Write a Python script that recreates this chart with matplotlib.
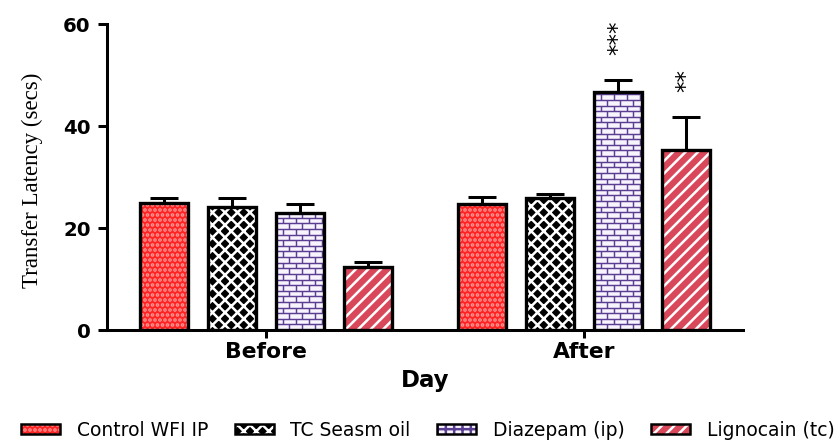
import numpy as np
import matplotlib
matplotlib.use("Agg")
import matplotlib.pyplot as plt
from matplotlib.patches import Patch
from matplotlib.collections import LineCollection

# ---- data -------------------------------------------------------------
days = ["Before", "After"]
series = ["Control WFI IP", "TC Seasm oil", "Diazepam (ip)", "Lignocain (tc)"]

control_mean = [24.9, 24.7]
control_sem = [1.0, 1.4]
tc_mean = [24.1, 25.9]
tc_sem = [1.8, 0.8]
diazepam_mean = [22.9, 46.7]
diazepam_sem = [1.8, 2.3]
lignocain_mean = [12.4, 35.3]
lignocain_sem = [0.9, 6.5]

diazepam_sig = ["", "***"]
lignocain_sig = ["", "**"]

y_ticks = [0, 20, 40, 60]

# ---- styling ----------------------------------------------------------
DPI = 150
plt.rcParams["hatch.linewidth"] = 1.2
plt.rcParams["font.family"] = ["DejaVu Sans"]

styles = [
    dict(face="#FF2424", hatch=".....", hcolor="#FF9C9C"),
    dict(face="#000000", hatch="xxxx", hcolor="#FFFFFF"),
    dict(face="#F8F4FD", hatch=None, hcolor="#5A3E92"),   # brick pattern
    dict(face="#D9485A", hatch="////", hcolor="#FFFFFF"),
]
means = [control_mean, tc_mean, diazepam_mean, lignocain_mean]
sems = [control_sem, tc_sem, diazepam_sem, lignocain_sem]
sigs = [None, None, diazepam_sig, lignocain_sig]

fig = plt.figure(figsize=(837 / DPI, 442 / DPI), dpi=DPI)
ax = fig.add_axes([107 / 837, 1 - 330 / 442, 636 / 837, 306 / 442])

x = np.arange(len(days))
pitch = 0.214
width = 0.151
offsets = (np.arange(len(series)) - 1.5) * pitch
edge_lw = 1.6
line_lw = 1.45


def brick_lines(ax, bars, color, row_h=1.1, brick_w=0.041):
    """Brick-wall texture drawn inside each bar, clipped to the bar."""
    for bar in bars:
        x0, w, h = bar.get_x(), bar.get_width(), bar.get_height()
        segs = []
        nrows = int(np.ceil(h / row_h))
        for r in range(nrows + 1):
            y = r * row_h
            segs.append([(x0, y), (x0 + w, y)])
            shift = 0 if r % 2 == 0 else brick_w / 2
            xs = np.arange(x0 + shift - brick_w, x0 + w + brick_w, brick_w)
            for xv in xs:
                segs.append([(xv, y), (xv, y + row_h)])
        lc = LineCollection(segs, colors=color, linewidths=0.7, zorder=2.5)
        ax.add_collection(lc)
        lc.set_clip_path(bar)


legend_handles = []
for i, (name, st) in enumerate(zip(series, styles)):
    pos = x + offsets[i]
    m = np.array(means[i])
    e = np.array(sems[i])
    # error bars (upper only)
    ax.errorbar(pos, m, yerr=[np.zeros_like(e), e], fmt="none",
                ecolor="black", elinewidth=line_lw, capsize=6.5,
                capthick=line_lw, zorder=2)
    face = ax.bar(pos, m, width, color=st["face"], linewidth=0, zorder=2.2)
    if st["hatch"]:
        ax.bar(pos, m, width, facecolor="none", edgecolor=st["hcolor"],
               linewidth=0, hatch=st["hatch"], zorder=2.5)
    else:
        brick_lines(ax, face.patches, st["hcolor"])
    ax.bar(pos, m, width, facecolor="none", edgecolor="black",
           linewidth=edge_lw, zorder=3)
    if sigs[i]:
        for xi, mi, ei, s in zip(pos, m, e, sigs[i]):
            if s:
                ax.annotate(s, (xi, mi + ei), xytext=(0, 12),
                            textcoords="offset points", rotation=90,
                            ha="center", va="bottom", fontsize=11)
    h_face = Patch(facecolor=st["face"], linewidth=0)
    h_hatch = Patch(facecolor="none", edgecolor=st["hcolor"], linewidth=0,
                    hatch=st["hatch"] if st["hatch"] else "+++")
    h_edge = Patch(facecolor="none", edgecolor="black", linewidth=1.2)
    legend_handles.append((h_face, h_hatch, h_edge))

# ---- axes -------------------------------------------------------------
ax.set_xlim(-0.5, 1.5)
ax.set_ylim(0, 60)
ax.set_yticks(y_ticks)
ax.set_xticks(x)
ax.set_xticklabels(days)
for s in ("top", "right"):
    ax.spines[s].set_visible(False)
for s in ("left", "bottom"):
    ax.spines[s].set_linewidth(line_lw)
ax.tick_params(axis="y", length=4.3, width=line_lw, pad=3.5,
               labelsize=9.5)
ax.tick_params(axis="x", length=3.8, width=line_lw, pad=2,
               labelsize=10.5)
for lab in ax.get_xticklabels() + ax.get_yticklabels():
    lab.set_fontweight("bold")

ax.set_xlabel("Day", fontsize=11, fontweight="bold")
ax.xaxis.set_label_coords(0.5, -0.128)
ax.set_ylabel("Transfer Latency (secs)", fontsize=11,
              family=["Liberation Serif", "DejaVu Serif"])
ax.yaxis.set_label_coords(-0.10, 0.49)

fig.legend(legend_handles, series, loc="center left",
           bbox_to_anchor=(21 / 837, 1 - 430 / 442), ncol=4,
           frameon=False, fontsize=9, handlelength=2.08,
           handleheight=0.45, handletextpad=0.9, columnspacing=1.4,
           borderaxespad=0, borderpad=0)

fig.savefig("out.png", dpi=DPI)
